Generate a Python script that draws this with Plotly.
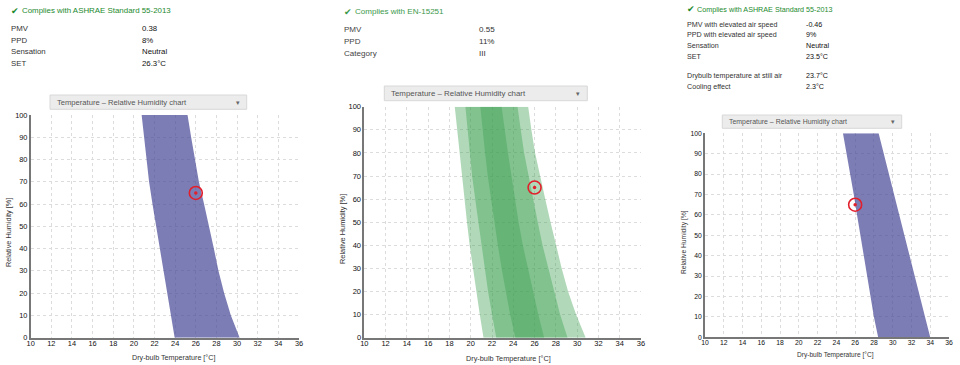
import plotly.graph_objects as go

W, H = 960, 365
FONT = "Liberation Sans"
INK = "#333333"

rh_levels = [100, 90, 80, 70, 60, 50, 40, 30, 20, 10, 0]

# Panel 1: ASHRAE comfort zone boundaries (deg C at each RH level)
ashrae_left = [20.75, 20.97, 21.2, 21.47, 21.8, 22.15, 22.55, 22.9, 23.25, 23.6, 23.95]
ashrae_right = [25.2, 25.55, 25.9, 26.3, 26.8, 27.3, 27.75, 28.2, 28.75, 29.4, 30.25]

# Panel 2: EN-15251 category boundaries
cat3_left = [18.5, 18.72, 18.95, 19.17, 19.4, 19.65, 19.9, 20.2, 20.55, 20.85, 21.2]
cat2_left = [19.5, 19.7, 19.9, 20.13, 20.42, 20.72, 21.0, 21.3, 21.63, 22.0, 22.4]
cat1_left = [20.9, 21.1, 21.35, 21.6, 21.9, 22.25, 22.55, 22.9, 23.3, 23.7, 24.2]
cat1_right = [22.9, 23.2, 23.5, 23.8, 24.15, 24.5, 24.9, 25.35, 25.85, 26.35, 26.9]
cat2_right = [24.4, 24.7, 25.02, 25.4, 25.85, 26.3, 26.75, 27.3, 27.85, 28.4, 29.1]
cat3_right = [25.4, 25.7, 26.05, 26.5, 27.0, 27.5, 28.0, 28.55, 29.15, 29.9, 30.8]

# Panel 3: elevated air speed comfort zone
elev_left = [24.7, 25.1, 25.5, 25.85, 26.2, 26.55, 26.9, 27.25, 27.6, 28.0, 28.45]
elev_right = [28.5, 29.05, 29.6, 30.15, 30.7, 31.25, 31.8, 32.35, 32.9, 33.45, 34.0]

point_t, point_rh = [26], [65]

x_ticks = list(range(10, 37, 2))
y_ticks = list(range(0, 101, 10))
x_title = "Dry-bulb Temperature [°C]"
y_title = "Relative Humidity [%]"
select_label = "Temperature – Relative Humidity chart"

panel1_status = "Complies with ASHRAE Standard 55-2013"
panel1_labels = ["PMV", "PPD", "Sensation", "SET"]
panel1_values = ["0.38", "8%", "Neutral", "26.3°C"]
panel2_status = "Complies with EN-15251"
panel2_labels = ["PMV", "PPD", "Category"]
panel2_values = ["0.55", "11%", "III"]
panel3_status = "Complies with ASHRAE Standard 55-2013"
panel3_labels = ["PMV with elevated air speed", "PPD with elevated air speed", "Sensation", "SET",
                 "Drybulb temperature at still air", "Cooling effect"]
panel3_values = ["-0.46", "9%", "Neutral", "23.5°C", "23.7°C", "2.3°C"]

# px boxes in the reference: left, right, top, bottom
boxes = [(30.7, 299, 115, 337.7), (364.3, 641, 106.7, 337.7), (705, 949, 133.3, 337.3)]
# x-title centre x,y  and y-title centre x,y
x_title_pos = [(173, 357), (508, 358), (835, 354.5)]
y_title_pos = [(8, 233), (342, 229), (684, 242)]
axis_font = [7.4, 7.5, 6.8]

def px(x): return x / W
def py(y): return 1 - y / H

fig = go.Figure()

def band(left, right, color, ax):
    fig.add_trace(go.Scatter(x=left + right[::-1], y=rh_levels + rh_levels[::-1], mode="lines",
                             line=dict(width=0), fill="toself", fillcolor=color, hoverinfo="skip",
                             showlegend=False, xaxis=f"x{ax}", yaxis=f"y{ax}"))

PURPLE = "rgba(70,70,150,0.7)"
GREEN = "rgba(60,160,80,0.4)"
band(ashrae_left, ashrae_right, PURPLE, "")
band(cat3_left, cat3_right, GREEN, "2")
band(cat2_left, cat2_right, GREEN, "2")
band(cat1_left, cat1_right, GREEN, "2")
band(elev_left, elev_right, PURPLE, "3")

for ax in ["", "2", "3"]:
    fig.add_trace(go.Scatter(x=point_t, y=point_rh, mode="markers",
                             marker=dict(symbol="circle-open", size=13, color="#e2202c", line=dict(width=1.6, color="#e2202c")),
                             showlegend=False, xaxis=f"x{ax}", yaxis=f"y{ax}"))
    fig.add_trace(go.Scatter(x=point_t, y=point_rh, mode="markers",
                             marker=dict(size=3.5, color="#e2202c"),
                             showlegend=False, xaxis=f"x{ax}", yaxis=f"y{ax}"))

layout = dict(width=W, height=H, margin=dict(l=0, r=0, t=0, b=0, autoexpand=False),
              paper_bgcolor="#ffffff", plot_bgcolor="#ffffff",
              showlegend=False, font=dict(family=FONT, size=9, color=INK))
annotations = []
shapes = []

for i, (l, r, t, b) in enumerate(boxes):
    s = "" if i == 0 else str(i + 1)
    axis_common = dict(showline=True, linecolor="#777777", linewidth=1.5, ticks="",
                       showgrid=True, gridcolor="#dcdcdc", griddash="3px,3px", gridwidth=1, zeroline=False,
                       tickfont=dict(family=FONT, size=axis_font[i], color="#111111"))
    layout[f"xaxis{s}"] = dict(domain=[px(l), px(r)], range=[10, 36], tickvals=x_ticks, anchor=f"y{s}",
                               ticklabelstandoff=-2, **axis_common)
    layout[f"yaxis{s}"] = dict(domain=[py(b), py(t)], range=[0, 100], tickvals=y_ticks, anchor=f"x{s}", **axis_common)
    tx, ty = x_title_pos[i]
    annotations.append(dict(xref="paper", yref="paper", x=px(tx), y=py(ty), text=x_title, showarrow=False,
                            xanchor="center", yanchor="middle", font=dict(size=axis_font[i] - 0.2, color=INK)))
    yx, yy = y_title_pos[i]
    annotations.append(dict(xref="paper", yref="paper", x=px(yx), y=py(yy), text=y_title, textangle=-90,
                            xanchor="center", yanchor="middle", showarrow=False,
                            font=dict(size=axis_font[i] - 0.1, color=INK)))

def text(x, y, t, color=INK, size=8.8, anchor="left"):
    annotations.append(dict(xref="paper", yref="paper", x=px(x), y=py(y), text=t, showarrow=False, xanchor=anchor,
                            yanchor="middle", font=dict(size=size, color=color), borderpad=0, borderwidth=0))

def status(x, tx, y, t, color, size):
    text(x, y, "✔", color, 8.5)
    text(tx, y, t, color, size)

status(11, 22, 11, panel1_status, "#1c8a2e", 7.9)
for lab, val, y in zip(panel1_labels, panel1_values, [28.7, 40, 52, 63.7]):
    text(11, y, lab, INK, 7.8); text(142, y, val, "#111111", 7.8)
status(344, 355, 11.5, panel2_status, "#3c9a4c", 8.05)
for lab, val, y in zip(panel2_labels, panel2_values, [29.3, 41.3, 53.7]):
    text(344, y, lab, "#444444", 8.05); text(479, y, val, "#333333", 8.05)
status(687, 697, 9, panel3_status, "#1c8a2e", 7.2)
for lab, val, y in zip(panel3_labels, panel3_values, [25, 35.3, 46.3, 57, 76, 86.7]):
    text(687, y, lab, INK, 7.15); text(806, y, val, "#111111", 7.15)

selects = [(50, 246.7, 95, 109.3, 7.6), (384.3, 587.3, 86, 100.7, 7.9), (722.3, 901.7, 115, 128.3, 6.95)]
for l, r, t, b, size in selects:
    shapes.append(dict(type="rect", xref="paper", yref="paper", x0=px(l), x1=px(r), y0=py(b), y1=py(t),
                       fillcolor="#ececec", line=dict(color="#d8d8d8", width=1)))
    text(l + 7, (t + b) / 2, select_label, "#555555", size)
    text(r - 9, (t + b) / 2, "▾", "#666666", 7, "center")

layout["annotations"] = annotations
layout["shapes"] = shapes
fig.update_layout(**layout)
fig.write_html("out.html", config=dict(displayModeBar=False),
               post_script="document.body.style.margin='0';document.documentElement.style.overflow='hidden';")
